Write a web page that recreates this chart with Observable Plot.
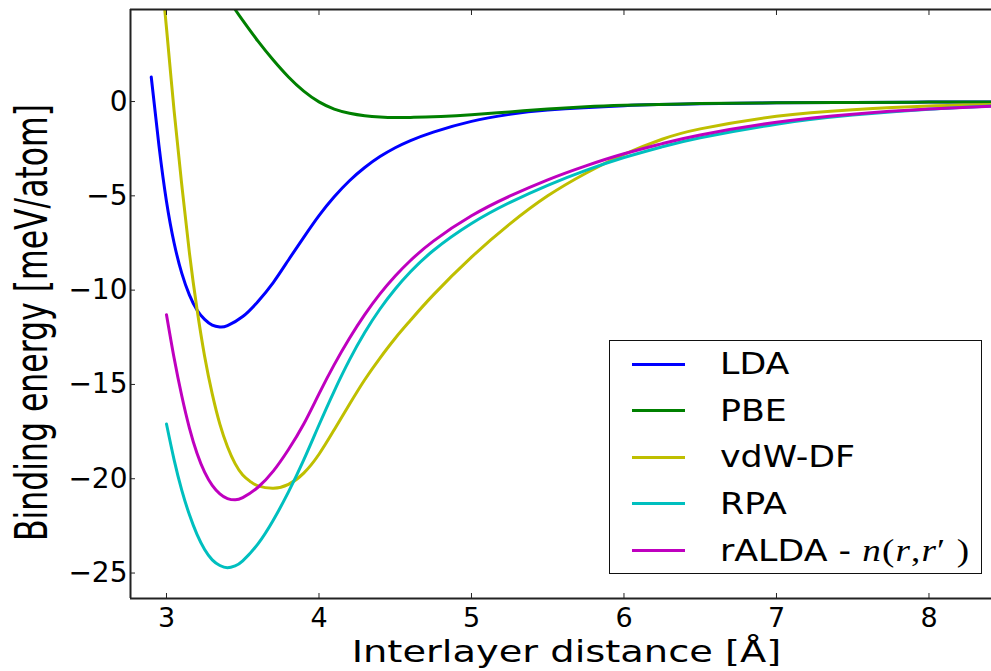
<!DOCTYPE html>
<html><head><meta charset="utf-8">
<script src="https://cdn.jsdelivr.net/npm/d3@7"></script>
<script src="https://cdn.jsdelivr.net/npm/@observablehq/plot@0.6"></script>
<style>
body{margin:0;background:#fff;}
#wrap{position:relative;width:991px;height:671px;overflow:hidden;font-family:"DejaVu Sans",sans-serif;}
#legend{position:absolute;left:609px;top:340px;width:373px;height:234px;border:1.5px solid #111;background:#fff;box-sizing:border-box;}
.row{position:absolute;left:0;height:40px;}
.sw{position:absolute;left:22px;top:18.5px;width:53px;height:3px;}
.lab{position:absolute;left:110px;top:0;line-height:40px;font-size:30px;white-space:nowrap;transform:scaleX(1.16);transform-origin:left center;color:#000;}
.math{font-family:"Liberation Serif","DejaVu Serif",serif;font-size:32px;letter-spacing:1px;}
</style></head>
<body><div id="wrap"></div>
<script>
const xTicks = [3, 4, 5, 6, 7, 8];
const yTicks = [-25, -20, -15, -10, -5, 0];
const xDomain = [2.764, 8.41];
const yDomain = [-26.35, 4.88];
const seriesNames = ["LDA", "PBE", "vdW-DF", "RPA", "rALDA"];
const seriesColors = ["#0000ff", "#008000", "#bfbf00", "#00bfbf", "#bf00bf"];
const xLabel = "Interlayer distance [Å]";
const yLabel = "Binding energy [meV/atom]";

const ldaX = [2.9,2.95,3.0,3.05,3.1,3.15,3.2,3.25,3.3,3.35,3.4,3.5,3.6,3.7,3.8,3.9,4.0,4.1,4.2,4.3,4.4,4.5,4.6,4.75,5.0,5.25,5.5,6.0,6.5,7.0,7.5,8.0,8.5];
const ldaY = [1.3,-2.3,-5.3,-7.5,-9.1,-10.25,-11.05,-11.55,-11.85,-11.95,-11.88,-11.4,-10.6,-9.6,-8.4,-7.2,-6.05,-5.05,-4.2,-3.5,-2.92,-2.45,-2.07,-1.62,-1.05,-0.68,-0.45,-0.22,-0.12,-0.07,-0.05,-0.03,-0.02];

const pbeX = [3.4,3.45,3.5,3.6,3.7,3.8,3.9,4.0,4.1,4.2,4.3,4.4,4.5,4.6,4.7,4.8,5.0,5.25,5.5,5.75,6.0,6.5,7.0,7.5,8.0,8.5];
const pbeY = [5.5,4.88,4.3,3.2,2.2,1.3,0.55,-0.02,-0.4,-0.62,-0.75,-0.82,-0.85,-0.84,-0.82,-0.79,-0.7,-0.55,-0.4,-0.28,-0.2,-0.11,-0.07,-0.05,-0.03,-0.02];

const vdwX = [2.96,3.0,3.05,3.1,3.15,3.2,3.25,3.3,3.35,3.4,3.45,3.5,3.55,3.6,3.7,3.8,3.9,4.0,4.1,4.2,4.3,4.4,4.5,4.6,4.75,5.0,5.25,5.5,5.75,6.0,6.25,6.5,7.0,7.5,8.0,8.5];
const vdwY = [7.3,3.9,-0.5,-4.4,-8.0,-11.0,-13.5,-15.5,-17.1,-18.3,-19.2,-19.8,-20.15,-20.38,-20.5,-20.3,-19.7,-18.7,-17.4,-16.05,-14.75,-13.6,-12.55,-11.6,-10.25,-8.25,-6.5,-5.0,-3.8,-2.8,-2.0,-1.45,-0.78,-0.43,-0.24,-0.15];

const rpaX = [3.0,3.05,3.1,3.15,3.2,3.25,3.3,3.35,3.4,3.45,3.5,3.6,3.7,3.8,3.9,4.0,4.1,4.2,4.3,4.4,4.5,4.6,4.75,5.0,5.25,5.5,5.75,6.0,6.25,6.5,7.0,7.5,8.0,8.5];
const rpaY = [-17.1,-19.0,-20.6,-21.9,-22.95,-23.75,-24.3,-24.6,-24.72,-24.62,-24.35,-23.45,-22.2,-20.7,-19.0,-17.15,-15.35,-13.7,-12.25,-11.0,-9.94,-9.03,-7.9,-6.47,-5.36,-4.44,-3.65,-2.97,-2.4,-1.92,-1.2,-0.72,-0.41,-0.2];

const raldaX = [3.0,3.05,3.1,3.15,3.2,3.25,3.3,3.35,3.4,3.45,3.5,3.6,3.7,3.8,3.9,4.0,4.1,4.2,4.3,4.4,4.5,4.6,4.75,5.0,5.25,5.5,5.75,6.0,6.25,6.5,7.0,7.5,8.0,8.5];
const raldaY = [-11.3,-13.6,-15.6,-17.3,-18.65,-19.65,-20.35,-20.8,-21.05,-21.12,-21.0,-20.45,-19.6,-18.45,-17.1,-15.5,-13.95,-12.55,-11.3,-10.2,-9.25,-8.43,-7.4,-6.06,-5.02,-4.15,-3.41,-2.77,-2.23,-1.77,-1.1,-0.67,-0.4,-0.21];

const seriesX = [ldaX, pbeX, vdwX, rpaX, raldaX];
const seriesY = [ldaY, pbeY, vdwY, rpaY, raldaY];
const data = seriesNames.flatMap((name, i) => seriesX[i].map((x, j) => ({series: name, x, y: seriesY[i][j]})));

const spine = {stroke: "#222", strokeWidth: 2};
const tickFont = 27;

const plot = Plot.plot({
  width: 991, height: 671,
  marginLeft: 130, marginRight: 0, marginTop: 9, marginBottom: 73,
  style: {fontFamily: "DejaVu Sans", fontSize: "27px", color: "#000", background: "#fff", overflow: "visible"},
  x: {domain: xDomain},
  y: {domain: yDomain},
  color: {domain: seriesNames, range: seriesColors},
  marks: [
    Plot.line(data, {x: "x", y: "y", z: "series", stroke: "series", strokeWidth: 3, curve: "natural", clip: true}),
    Plot.ruleX([xDomain[0]], spine),
    Plot.ruleY([yDomain[0], yDomain[1]], spine),
    Plot.axisX(xTicks, {anchor: "bottom", tickSize: 0, tickPadding: 9, tickFormat: d => String(d), fontSize: tickFont, label: null}),
    Plot.axisX(xTicks, {anchor: "bottom", tickSize: -5, tickFormat: () => "", label: null, stroke: "#222"}),
    Plot.axisX(xTicks, {anchor: "top", tickSize: -5, tickFormat: () => "", label: null, stroke: "#222"}),
    Plot.axisY(yTicks, {anchor: "left", tickSize: 0, tickPadding: 3, fontSize: tickFont + 1, label: null}),
    Plot.axisY(yTicks, {anchor: "left", tickSize: -5, tickFormat: () => "", label: null, stroke: "#222"}),
    Plot.text([xLabel], {text: d => d, frameAnchor: "bottom", textAnchor: "middle", lineAnchor: "middle", dx: 5.5, dy: 54, fontSize: 30, fill: "#000"}),
    Plot.text([yLabel], {text: d => d, frameAnchor: "left", textAnchor: "middle", lineAnchor: "middle", rotate: -90, dx: -98, dy: 18.5, fontSize: 31.5, fill: "#000"})
  ]
});

function stretch(label, sx, sy) {
  d3.select(plot).selectAll("text").each(function() {
    if (this.textContent !== label) return;
    let tr = this.getAttribute("transform");
    if (!tr) {
      const x = +this.getAttribute("x") || 0, y = +this.getAttribute("y") || 0;
      this.removeAttribute("x"); this.removeAttribute("y");
      tr = `translate(${x},${y})`;
    }
    this.setAttribute("transform", tr + ` scale(${sx},${sy})`);
  });
}
stretch(xLabel, 1.28, 1);
stretch(yLabel, 1, 1.4);

const wrap = document.getElementById("wrap");
wrap.appendChild(plot);

const legend = document.createElement("div");
legend.id = "legend";
seriesNames.forEach((name, i) => {
  const row = document.createElement("div");
  row.className = "row";
  row.style.top = (3 + i * 46.6) + "px";
  row.style.width = "100%";
  const sw = document.createElement("div");
  sw.className = "sw";
  sw.style.background = seriesColors[i];
  const lab = document.createElement("div");
  lab.className = "lab";
  if (name === "rALDA") {
    lab.innerHTML = 'rALDA - <span class="math"><i>n</i>(<i>r</i>,<i>r</i>′ )</span>';
  } else {
    lab.textContent = name;
  }
  row.appendChild(sw);
  row.appendChild(lab);
  legend.appendChild(row);
});
wrap.appendChild(legend);
</script>
</body></html>
